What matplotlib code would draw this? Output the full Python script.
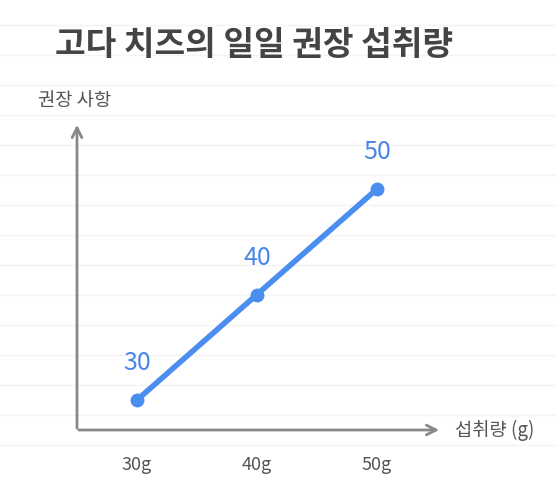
import matplotlib.pyplot as plt
import numpy as np

plt.rcParams['font.family'] = ['Noto Sans CJK KR', 'DejaVu Sans']

intake = [30, 40, 50]
values = [30, 40, 50]
tick_labels = ['30g', '40g', '50g']
title = '고다 치즈의 일일 권장 섭취량'

fig = plt.figure(figsize=(5.56, 4.99), dpi=100)
ax = fig.add_axes([0, 0, 1, 1])
# pixel-aligned data window
px_x = 12.0
px_y = 10.55
ax.set_xlim(30 - 137 / px_x, 30 + 419 / px_x)
ax.set_ylim(30 - 99 / px_y, 30 + 400 / px_y)
ax.axis('off')

def dx(p):
    return 30 + (p - 137) / px_x

def dy(p):
    return 30 + (400 - p) / px_y

# faint background grid lines
for p in np.arange(25, 460, 30):
    ax.axhline(dy(p), color='#f4f4f4', lw=1, zorder=0)

# axes arrows
ax.annotate('', xy=(dx(442), dy(430)), xytext=(dx(76), dy(430)),
            arrowprops=dict(arrowstyle='->,head_length=0.7,head_width=0.35', color='#888888', lw=2))
ax.annotate('', xy=(dx(77), dy(122)), xytext=(dx(77), dy(431)),
            arrowprops=dict(arrowstyle='->,head_length=0.7,head_width=0.35', color='#888888', lw=2))

ax.plot(intake, values, color='#4a8ef0', lw=4, marker='o', ms=9, solid_capstyle='round')
for x, v in zip(intake, values):
    ax.text(x, v + 37 / px_y, str(v), color='#4a86e8', fontsize=18, ha='center', va='center')
for x, t in zip(intake, tick_labels):
    ax.text(x, dy(465), t, color='#555555', fontsize=13, ha='center', va='center')

ax.text(dx(38), dy(100), '권장 사항', color='#555555', fontsize=13.5, ha='left', va='center')
ax.text(dx(455), dy(430), '섭취량 (g)', color='#555555', fontsize=13.5, ha='left', va='center')
ax.text(dx(55), dy(45), title, color='#444444', fontsize=24, fontweight='bold', ha='left', va='center')

fig.savefig('out.png', dpi=100)
